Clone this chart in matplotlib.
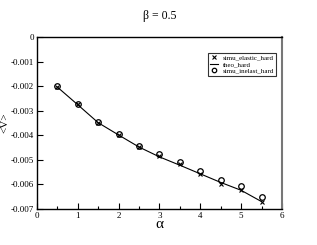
import numpy as np
import matplotlib.pyplot as plt

alpha = [0.5, 1.0, 1.5, 2.0, 2.5, 3.0, 3.5, 4.0, 4.5, 5.0, 5.5]
simu_elastic = [-0.00203, -0.00272, -0.00352, -0.00397, -0.00449, -0.00484,
                -0.00518, -0.00556, -0.00597, -0.00624, -0.00672]
theo = [-0.00204, -0.00276, -0.00349, -0.00399, -0.00448, -0.00488,
        -0.00522, -0.00557, -0.00592, -0.00624, -0.00670]
simu_inelast = [-0.00201, -0.00271, -0.00348, -0.00393, -0.00445, -0.00478,
                -0.00507, -0.00545, -0.00584, -0.00606, -0.00653]

plt.rcParams['font.family'] = ['Liberation Serif', 'DejaVu Serif']

fig = plt.figure(figsize=(3.17, 2.45), dpi=100)
ax = fig.add_axes([0.1167, 0.147, 0.7729, 0.702])

ax.plot(alpha, simu_elastic, 'x', color='black', ms=3.2, mew=0.8,
        label='simu_elastic_hard')
ax.plot(alpha, theo, '-', color='black', lw=0.8, label='theo_hard')
ax.plot(alpha, simu_inelast, 'o', mfc='none', mec='black', ms=4, mew=0.9,
        label='simu_inelast_hard')

ax.set_xlim(0, 6)
ax.set_ylim(-0.007, 0)
ax.set_xticks(range(0, 7))
ax.set_xticks(np.arange(0.5, 6, 1.0), minor=True)
ax.set_yticks(np.arange(-0.007, 0.0005, 0.001))
ax.set_yticklabels(['-0.007', '-0.006', '-0.005', '-0.004', '-0.003',
                    '-0.002', '-0.001', '0'])
ax.tick_params(direction='in', labelsize=6.5, length=4, width=0.8,
               top=False, right=False, pad=2)
ax.tick_params(which='minor', direction='in', length=2, width=0.8)
for s in ax.spines.values():
    s.set_linewidth(1.0)
ax.spines['right'].set_color('#777777')
ax.spines['right'].set_linewidth(1.5)

ax.set_xlabel('α', fontsize=11, labelpad=-1)
ax.set_ylabel('<V>', fontsize=8, labelpad=1)
ax.set_title('β = 0.5', fontsize=8.5, pad=13)

leg = ax.legend(loc='upper right', fontsize=5, frameon=True, fancybox=False,
                edgecolor='black', borderpad=0.3, labelspacing=0.1,
                handlelength=1.2, handletextpad=0.6, markerscale=0.8,
                bbox_to_anchor=(0.99, 0.93))
leg.get_frame().set_linewidth(0.8)

fig.savefig('out.png', dpi=100)
